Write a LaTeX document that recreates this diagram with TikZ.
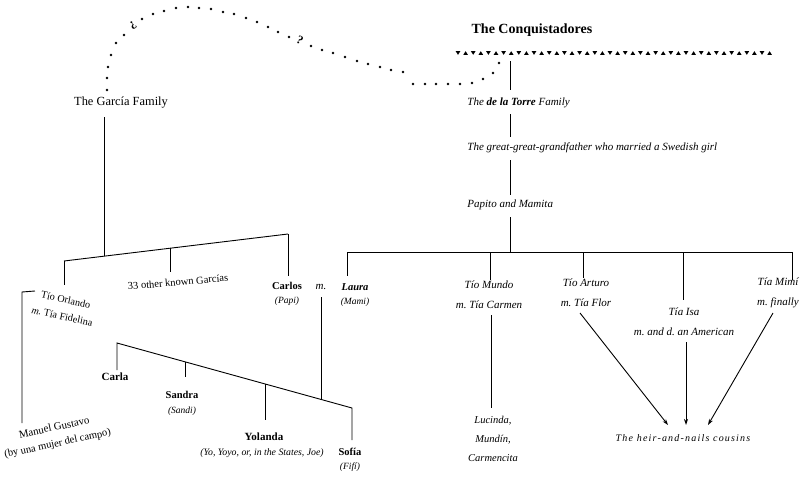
\documentclass[tikz,border=0pt]{standalone}
\usepackage{fontspec}
\setmainfont{Liberation Serif}
\usetikzlibrary{arrows.meta}
\frenchspacing
\begin{document}
\begin{tikzpicture}[x=1pt,y=-1pt,line width=0.9pt,
  txt/.style={inner sep=0pt,align=center,font=\fontsize{10.5}{20}\selectfont},
  itx/.style={txt,font=\fontsize{11}{20}\selectfont\itshape},
  bigit/.style={txt,font=\fontsize{11}{13}\selectfont\itshape},
  nm/.style={txt,font=\fontsize{11}{18}\selectfont\bfseries},
  dot/.style={fill=black,draw=none},
  arr/.style={-{Stealth[length=6pt,width=4pt]}}]
\useasboundingbox (0,0) rectangle (802,480);

% ---------- dotted link ----------
\foreach \p in {(107,90),(107,78),(108,67),(111,55),(116,43),(124,35),(142,19),(153,14),(164,11),(176,8),(188,7),(199,8),(211,9),(223,12),(234,14),(246,18),(257,22),(268,27),(278,32),(289,37),(311,46),(322,50),(333,53),(345,57),(357,61),(368,64),(380,67),(391,70),(403,72),(413,84),(425,84),(436,84),(448,84),(460,84),(472,83),(483,79),(493,73),(499,63)}
  \fill[dot] \p circle (1.4);
\node[inner sep=0pt,font=\fontsize{12}{12}\selectfont\bfseries,rotate=35] (q1) at (133,25) {¿};
\node[inner sep=0pt,font=\fontsize{12}{12}\selectfont\bfseries,rotate=-25] (q2) at (300,40) {?};

% ---------- conquistadores ----------
\node[inner sep=0pt,font=\fontsize{14}{16}\selectfont\bfseries] (conq) at (532,30) {The Conquistadores};
\foreach \i in {0,...,41}{
  \pgfmathsetmacro{\xx}{458+7.6*\i}
  \ifodd\i
    \fill (\xx-2.3,54.8) -- (\xx+2.3,54.8) -- (\xx,51.2) -- cycle;
  \else
    \fill (\xx-2.3,51.2) -- (\xx+2.3,51.2) -- (\xx,54.8) -- cycle;
  \fi
}

% ---------- de la Torre trunk ----------
\node[bigit,anchor=west] (torre) at (467,103) {The \textbf{de la Torre} Family};
\node[bigit,anchor=west] (gggf) at (467,148) {The great-great-grandfather who married a Swedish girl};
\node[bigit,anchor=west] (papito) at (467,205) {Papito and Mamita};
\coordinate (tA) at (510,61);  \coordinate (tB) at (510,90);
\coordinate (tC) at (510,114); \coordinate (tD) at (510,137);
\coordinate (tE) at (510,160); \coordinate (tF) at (510,195);
\coordinate (tG) at (510,217); \coordinate (tH) at (510,252);
\draw (tA) -- (tB);
\draw (tC) -- (tD);
\draw (tE) -- (tF);
\draw (tG) -- (tH);
\coordinate (hL) at (347,252); \coordinate (hR) at (792,252);
\draw (hL) -- (hR);
\coordinate (bLa) at (347,276);
\coordinate (bMu0) at (490,252); \coordinate (bMu) at (490,280);
\coordinate (bAr0) at (583,252); \coordinate (bAr) at (583,278);
\coordinate (bIs0) at (683,252); \coordinate (bIs) at (683,300);
\coordinate (bMi) at (792,280);
\draw (hL) -- (bLa);
\draw (bMu0) -- (bMu);
\draw (bAr0) -- (bAr);
\draw (bIs0) -- (bIs);
\draw (hR) -- (bMi);

\node[txt] (laura) at (355,295) {\textbf{\itshape Laura}\\[-6pt]{\fontsize{9.5}{11}\selectfont\itshape (Mami)}};
\node[itx] (mundo) at (489,295) {Tío Mundo\\m. Tía Carmen};
\node[itx] (arturo) at (586,293) {Tío Arturo\\m. Tía Flor};
\node[itx] (isa) at (684,322) {Tía Isa\\m. and d. an American};
\node[itx] (mimi) at (778,293) {Tía Mimí\\m. finally};
\node[itx,font=\fontsize{10.5}{19}\selectfont\itshape] (lucinda) at (493,439) {Lucinda,\\Mundín,\\Carmencita};
\node[inner sep=0pt,font=\fontsize{10}{12}\selectfont\itshape\addfontfeatures{LetterSpace=12}] (cousins) at (683,438) {The heir-and-nails cousins};

\coordinate (mu1) at (491,315); \coordinate (mu2) at (491,408);
\draw (mu1) -- (mu2);
\coordinate (ar1) at (580,313); \coordinate (ar2) at (668,425);
\coordinate (is1) at (686,342); \coordinate (is2) at (686,425);
\coordinate (mi1) at (773,313); \coordinate (mi2) at (708,425);
\draw[arr] (ar1) -- (ar2);
\draw[arr] (is1) -- (is2);
\draw[arr] (mi1) -- (mi2);

% ---------- García side ----------
\node[inner sep=0pt,font=\fontsize{12.4}{14}\selectfont] (garcia) at (121,103) {The García Family};
\coordinate (gA) at (104,117); \coordinate (gB) at (104,256);
\draw (gA) -- (gB);
\coordinate (sL) at (64,261); \coordinate (sR) at (288,234);
\draw (sL) -- (sR);
\coordinate (oB) at (64,285);
\coordinate (xT) at (170,248); \coordinate (xB) at (170,272);
\coordinate (cB) at (288,276);
\draw (sL) -- (oB);
\draw (xT) -- (xB);
\draw (sR) -- (cB);

\node[txt,rotate=5] (others) at (178,282) {33 other known Garcías};
\node[txt] (carlos) at (287,294) {\textbf{Carlos}\\[-6pt]{\fontsize{9.5}{11}\selectfont\itshape (Papi)}};
\node[inner sep=0pt,font=\fontsize{11}{13}\selectfont\itshape] (m) at (321,287) {m.};

\node[txt,rotate=-12,font=\fontsize{10.2}{17}\selectfont] (orlando) at (64,308) {Tío Orlando\\\textit{m.} Tía Fidelina};
\coordinate (oA) at (35,291); \coordinate (oC) at (22,292); \coordinate (oD) at (22,423);
\draw (oA) -- (oC) -- (oD);
\node[txt,rotate=12,font=\fontsize{10.5}{16}\selectfont] (manuel) at (56,436) {\fontsize{10.8}{16}\selectfont Manuel Gustavo\\(by una mujer del campo)};

\coordinate (mA) at (321,297); \coordinate (mB) at (321,399);
\draw (mA) -- (mB);
\coordinate (kA) at (117,370); \coordinate (kB) at (117,343);
\coordinate (kC) at (352,408); \coordinate (kD) at (352,440);
\draw (kA) -- (kB) -- (kC) -- (kD);
\coordinate (sa1) at (185,362); \coordinate (sa2) at (185,377);
\coordinate (yo1) at (265,384); \coordinate (yo2) at (265,420);
\draw (sa1) -- (sa2);
\draw (yo1) -- (yo2);

\node[nm] (carla) at (115,377) {Carla};
\node[txt] (sandra) at (182,403) {\textbf{Sandra}\\[-5pt]{\fontsize{9.5}{11}\selectfont\itshape (Sandi)}};
\node[nm] (yolanda) at (264,437) {Yolanda};
\node[txt,font=\fontsize{9.8}{11}\selectfont\itshape] (yoyo) at (262,453) {(Yo, Yoyo, or, in the States, Joe)};
\node[txt] (sofia) at (350,460) {\textbf{Sofía}\\[-6pt]{\fontsize{9.5}{11}\selectfont\itshape (Fifí)}};
\end{tikzpicture}
\end{document}
